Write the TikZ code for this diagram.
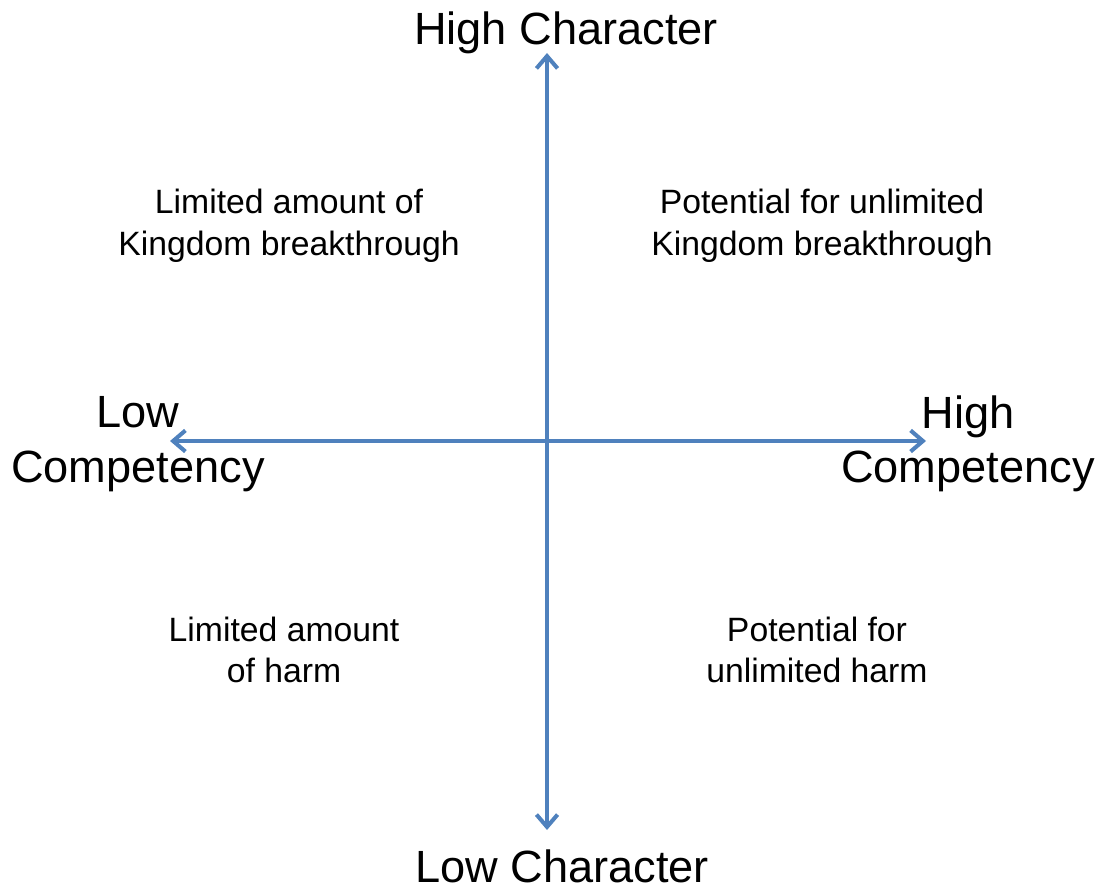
\documentclass[tikz,border=0pt]{standalone}
\usepackage{fontspec}
\setmainfont{Liberation Sans}
\usetikzlibrary{arrows.meta}
\definecolor{axisblue}{HTML}{4F81BD}
\begin{document}
\begin{tikzpicture}[x=0.02cm, y=-0.02cm]
  \tikzstyle{axis}=[draw=axisblue, line width=2.3pt, {Straight Barb[length=7pt,width=12pt]}-{Straight Barb[length=7pt,width=12pt]}]
  \tikzstyle{big}=[align=center, inner sep=0pt, font=\fontsize{25.7}{31}\selectfont]
  \tikzstyle{quad}=[align=center, inner sep=0pt, font=\fontsize{19.2}{23.6}\selectfont]

  \useasboundingbox (0,0) rectangle (1099,888);

  \coordinate (top)   at (547, 53);
  \coordinate (bot)   at (547, 830);
  \coordinate (left)  at (170, 441);
  \coordinate (right) at (926, 441);

  \draw[axis] (bot) -- (top);
  \draw[axis] (left) -- (right);

  \node[big, anchor=base] (hichar) at (566, 45)  {High Character};
  \node[big, anchor=base] (lochar) at (562, 882) {Low Character};
  \node[big] (locomp) at (138, 444) {Low\\Competency};
  \node[big] (hicomp) at (968, 444) {High\\Competency};

  \node[quad] (q1) at (289, 226) {Limited amount of\\Kingdom breakthrough};
  \node[quad] (q2) at (822, 226) {Potential for unlimited\\Kingdom breakthrough};
  \node[quad] (q3) at (284, 650) {Limited amount\\of harm};
  \node[quad] (q4) at (817, 650) {Potential for\\unlimited harm};
\end{tikzpicture}
\end{document}
